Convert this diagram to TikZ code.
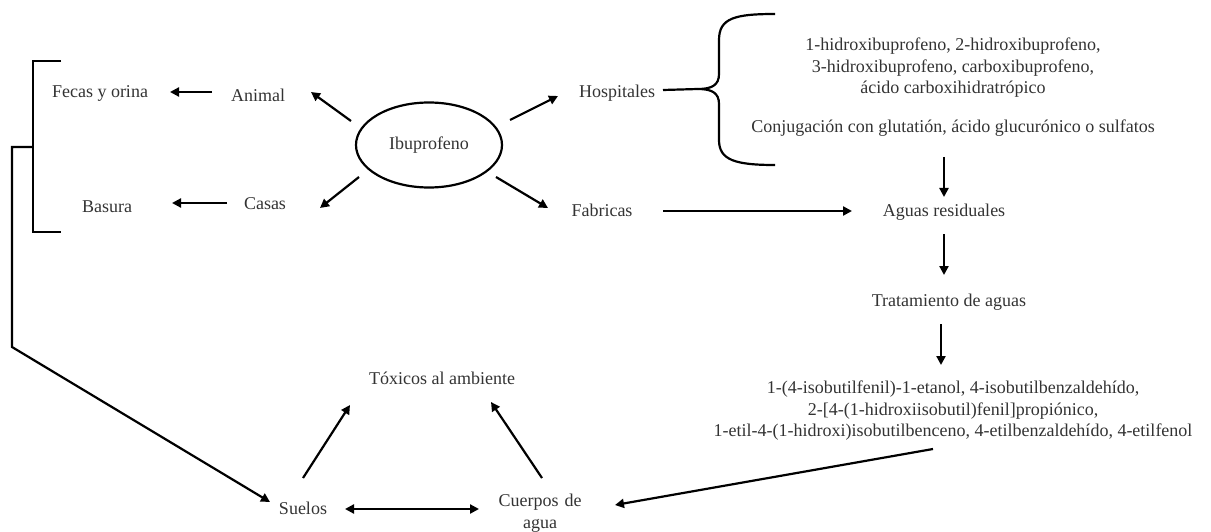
\documentclass[tikz,border=0pt]{standalone}
\usepackage{fontspec}
\setmainfont{Liberation Serif}
\usetikzlibrary{shapes.geometric,arrows.meta}
\tikzset{
	txt/.style={text=black!80, font=\fontsize{18}{21.5}\selectfont, inner sep=0pt, align=center},
	arr/.style={line width=2.2pt, -{Triangle[length=9pt,width=9pt]}},
	darr/.style={line width=2.2pt, {Triangle[length=9pt,width=9pt]}-{Triangle[length=9pt,width=9pt]}},
	brk/.style={line width=2.2pt},
}
\begin{document}
\begin{tikzpicture}[x=1pt,y=-1pt]
	\useasboundingbox (0,0) rectangle (1211,532);

	\node[txt, ellipse, draw=black, line width=2.2pt, minimum width=146pt, minimum height=85pt] (ibu) at (429,145) {Ibuprofeno};

	\node[txt] (fecas) at (100,93) {Fecas y orina};
	\node[txt] (animal) at (258,95) {Animal};
	\node[txt] (basura) at (107,207) {Basura};
	\node[txt] (casas) at (265,204) {Casas};
	\node[txt] (hosp) at (617,93) {Hospitales};
	\node[txt] (fab) at (602,210) {Fabricas};

	\node[txt] (metab) at (953,68) {1-hidroxibuprofeno, 2-hidroxibuprofeno,\\3-hidroxibuprofeno, carboxibuprofeno,\\ácido carboxihidratrópico};
	\node[txt] (conj) at (953,128) {Conjugación con glutatión, ácido glucurónico o sulfatos};
	\node[txt] (aguas) at (944,212) {Aguas residuales};
	\node[txt] (trat) at (949,302) {Tratamiento de aguas};
	\node[txt] (prod) at (953,411) {1-(4-isobutilfenil)-1-etanol, 4-isobutilbenzaldehído,\\2-[4-(1-hidroxiisobutil)fenil]propiónico,\\1-etil-4-(1-hidroxi)isobutilbenceno, 4-etilbenzaldehído, 4-etilfenol};

	\node[txt] (tox) at (442,378) {Tóxicos al ambiente};
	\node[txt] (suelos) at (303,508) {Suelos};
	\node[txt, text width=100pt] (cuerpos) at (540,513) {Cuerpos de\\agua};

	% left bracket
	\draw[brk] (61,61) -- (33,61) -- (33,232) -- (61,232);
	\coordinate (brkmid) at (33,147);
	\draw[arr] (brkmid) -- (12,147) -- (12,347) -- ([shift={(-33,-6)}]suelos.center);

	% brace of Hospitales
	\draw[brk] ([shift={(46,-3)}]hosp.center) -- (698,89);
	\draw[brk] (775,14) .. controls (735,14) and (719,18) .. (719,40) -- (719,74)
		.. controls (719,85) and (712,89) .. (698,89)
		.. controls (712,89) and (719,93) .. (719,104) -- (719,140)
		.. controls (719,160) and (735,165) .. (775,165);

	\draw[arr] ([shift={(-46,-3)}]animal.center) -- ([shift={(70,-1)}]fecas.center);
	\draw[arr] ([shift={(-38,-1)}]casas.center) -- ([shift={(65,-4)}]basura.center);
	\draw[arr] ([shift={(-78,-24)}]ibu.center) -- ([shift={(53,-3)}]animal.center);
	\draw[arr] ([shift={(-70,32)}]ibu.center) -- ([shift={(55,4)}]casas.center);
	\draw[arr] ([shift={(81,-25)}]ibu.center) -- ([shift={(-59,3)}]hosp.center);
	\draw[arr] ([shift={(67,32)}]ibu.center) -- ([shift={(-54,-2)}]fab.center);
	\draw[arr] ([shift={(61,1)}]fab.center) -- ([shift={(-92,-1)}]aguas.center);

	\draw[arr] ([shift={(-9,29)}]conj.center) -- ([shift={(0,-15)}]aguas.center);
	\draw[arr] ([shift={(0,22)}]aguas.center) -- ([shift={(-5,-27)}]trat.center);
	\draw[arr] ([shift={(-8,22)}]trat.center) -- ([shift={(-12,-46)}]prod.center);
	\draw[arr] ([shift={(-20,38)}]prod.center) -- ([shift={(75,-8)}]cuerpos.center);

	\draw[arr] ([shift={(2,-35)}]cuerpos.center) -- ([shift={(49,24)}]tox.center);
	\draw[arr] ([shift={(0,-30)}]suelos.center) -- ([shift={(-92,27)}]tox.center);
	\draw[darr] ([shift={(42,1)}]suelos.center) -- ([shift={(-61,-4)}]cuerpos.center);
\end{tikzpicture}
\end{document}
